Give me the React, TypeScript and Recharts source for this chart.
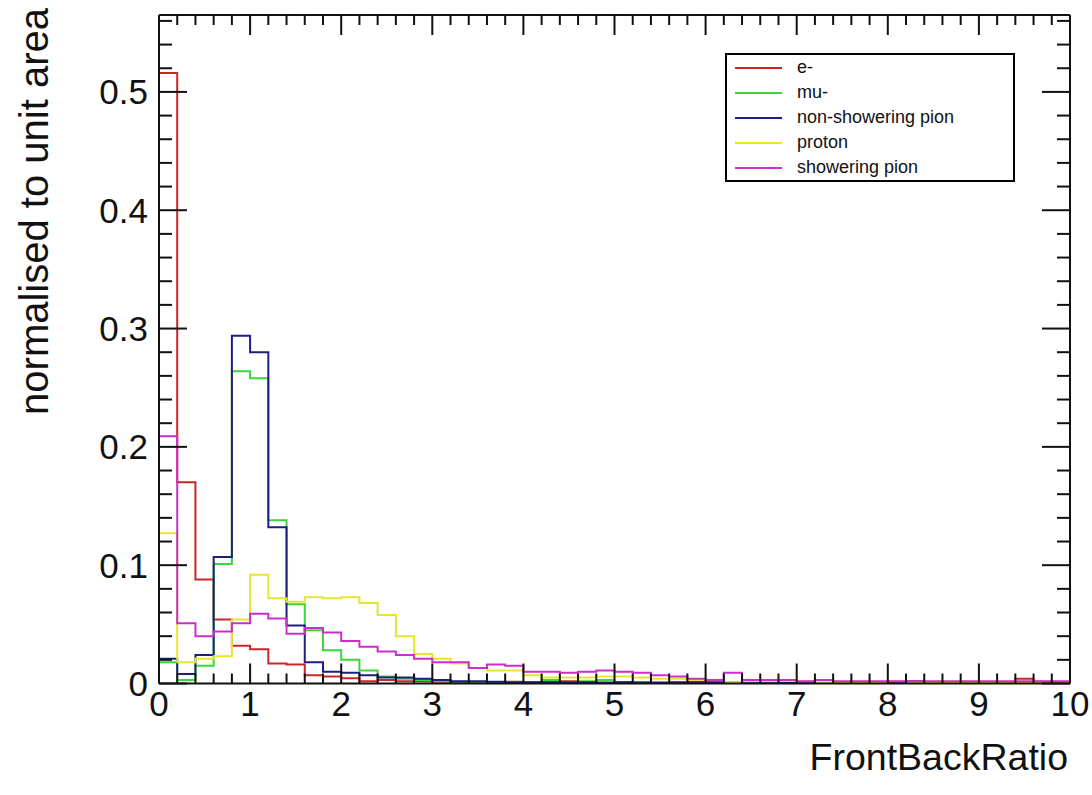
import React from 'react';
import { LineChart, Line, XAxis, YAxis, Legend } from 'recharts';

// FrontBackRatio histograms, 50 bins of width 0.2 on [0, 10], each normalised to unit area
const BIN_WIDTH = 0.2;

const electron = [
  0.516, 0.170, 0.088, 0.054, 0.032, 0.029, 0.017, 0.016, 0.007, 0.006,
  0.0045, 0.002, 0.003, 0.002, 0.002, 0.0015, 0.001, 0.001, 0.001, 0.0015,
  0.001, 0.001, 0.002, 0.001, 0.0005, 0.001, 0.0005, 0.0005, 0.001, 0.002,
  0.001, 0.0005, 0.001, 0.0005, 0.0005, 0.001, 0.0005, 0.0005, 0.0005, 0.0005,
  0.0005, 0.0005, 0.0005, 0.0005, 0.0005, 0.001, 0.001, 0.004, 0.0015, 0.001,
];

const muon = [
  0.018, 0.003, 0.015, 0.101, 0.264, 0.258, 0.138, 0.067, 0.045, 0.028,
  0.020, 0.011, 0.006, 0.004, 0.003, 0.002, 0.0015, 0.001, 0.001, 0.001,
  0.001, 0.003, 0.001, 0.002, 0.003, 0.001, 0.001, 0.0005, 0.0005, 0.0005,
  0.0005, 0.0005, 0.001, 0.002, 0.0005, 0.0005, 0.0005, 0.0005, 0.0005, 0.0005,
  0.0005, 0.0005, 0.0005, 0.0005, 0.0005, 0.0005, 0.0005, 0.0005, 0.0005, 0.0005,
];

const nonShoweringPion = [
  0.021, 0.008, 0.024, 0.107, 0.294, 0.280, 0.132, 0.049, 0.018, 0.010,
  0.009, 0.007, 0.005, 0.005, 0.004, 0.003, 0.002, 0.002, 0.0015, 0.001,
  0.001, 0.001, 0.001, 0.001, 0.0008, 0.001, 0.0008, 0.0008, 0.0008, 0.0008,
  0.0008, 0.0008, 0.0006, 0.0006, 0.0006, 0.0006, 0.0005, 0.0005, 0.0005, 0.0005,
  0.0005, 0.002, 0.0005, 0.0005, 0.0005, 0.0005, 0.0005, 0.0005, 0.0005, 0.0005,
];

const proton = [
  0.127, 0.018, 0.021, 0.023, 0.054, 0.092, 0.072, 0.069, 0.073, 0.072,
  0.073, 0.068, 0.058, 0.040, 0.025, 0.021, 0.017, 0.013, 0.011, 0.011,
  0.007, 0.005, 0.005, 0.005, 0.006, 0.006, 0.005, 0.004, 0.004, 0.003,
  0.003, 0.001, 0.002, 0.002, 0.003, 0.002, 0.001, 0.001, 0.001, 0.001,
  0.002, 0.001, 0.001, 0.001, 0.001, 0.001, 0.001, 0.001, 0.001, 0.001,
];

const showeringPion = [
  0.209, 0.051, 0.040, 0.044, 0.051, 0.059, 0.055, 0.042, 0.047, 0.043,
  0.036, 0.031, 0.027, 0.024, 0.021, 0.018, 0.018, 0.013, 0.016, 0.015,
  0.010, 0.010, 0.009, 0.010, 0.011, 0.010, 0.009, 0.007, 0.006, 0.004,
  0.003, 0.009, 0.003, 0.003, 0.003, 0.002, 0.003, 0.002, 0.002, 0.002,
  0.002, 0.002, 0.002, 0.002, 0.002, 0.002, 0.002, 0.002, 0.002, 0.002,
];

const series = [
  { key: 'e', name: 'e-', values: electron, color: '#cc2626' },
  { key: 'mu', name: 'mu-', values: muon, color: '#3ad63a' },
  { key: 'nsp', name: 'non-showering pion', values: nonShoweringPion, color: '#1e1e82' },
  { key: 'p', name: 'proton', values: proton, color: '#e6e62e' },
  { key: 'sp', name: 'showering pion', values: showeringPion, color: '#cc2ecc' },
];

const xMajorTicks = [0, 1, 2, 3, 4, 5, 6, 7, 8, 9, 10];
const yMajorTicks = [0, 0.1, 0.2, 0.3, 0.4, 0.5];
const yTickLabels = ['0', '0.1', '0.2', '0.3', '0.4', '0.5'];
const X_DOMAIN: [number, number] = [0, 10];
const Y_DOMAIN: [number, number] = [0, 0.565];

// one row per bin low edge, plus a closing row at x = 10 so the last step is drawn
const rows = electron.map((_, i) => {
  const row: Record<string, number> = { x: Math.round(i * BIN_WIDTH * 10) / 10 };
  series.forEach((s) => { row[s.key] = s.values[i]; });
  return row;
});
const closing: Record<string, number> = { x: X_DOMAIN[1] };
series.forEach((s) => { closing[s.key] = s.values[s.values.length - 1]; });
const data = [...rows, closing];

// minor ticks every 0.2 on x and 0.02 on y, ROOT style
const xTicks = Array.from({ length: 51 }, (_, i) => Math.round(i * 2) / 10);
const yTicks = Array.from({ length: 29 }, (_, i) => Math.round(i * 2) / 100);

const FONT = '"Liberation Sans", Arial, Helvetica, sans-serif';
const INK = '#111';

const isMajorX = (v: number) => xMajorTicks.some((t) => Math.abs(t - v) < 1e-6);
const majorYIndex = (v: number) => yMajorTicks.findIndex((t) => Math.abs(t - v) < 1e-6);

const BottomTick = ({ x, y, payload }: any) => {
  const major = isMajorX(payload.value);
  return (
    <g>
      <line x1={x} y1={y} x2={x} y2={y - (major ? 20 : 10)} stroke={INK} strokeWidth={2} />
      {major && (
        <text x={x} y={y + 32} textAnchor="middle" fontSize={35} fontFamily={FONT} fill={INK}>
          {payload.value}
        </text>
      )}
    </g>
  );
};

const TopTick = ({ x, y, payload }: any) => {
  const major = isMajorX(payload.value);
  return <line x1={x} y1={y} x2={x} y2={y + (major ? 20 : 10)} stroke={INK} strokeWidth={2} />;
};

const LeftTick = ({ x, y, payload }: any) => {
  const idx = majorYIndex(payload.value);
  const major = idx >= 0;
  return (
    <g>
      <line x1={x} y1={y} x2={x + (major ? 28 : 13)} y2={y} stroke={INK} strokeWidth={2} />
      {major && (
        <text x={x - 11} y={y + 12.5} textAnchor="end" fontSize={35} fontFamily={FONT} fill={INK}>
          {yTickLabels[idx]}
        </text>
      )}
    </g>
  );
};

const RightTick = ({ x, y, payload }: any) => {
  const major = majorYIndex(payload.value) >= 0;
  return <line x1={x} y1={y} x2={x - (major ? 28 : 13)} y2={y} stroke={INK} strokeWidth={2} />;
};

const LegendBox = ({ payload }: any) => (
  <div
    style={{
      width: 290,
      height: 129,
      boxSizing: 'border-box',
      border: '2px solid #000',
      background: '#fff',
    }}
  >
    {(payload || []).map((entry: any) => (
      <div key={entry.value} style={{ display: 'flex', alignItems: 'center', height: 25 }}>
        <span style={{ marginLeft: 8, width: 47, height: 2, background: entry.color, display: 'inline-block' }} />
        <span style={{ marginLeft: 15, fontSize: 18, fontFamily: FONT, color: INK, lineHeight: '25px' }}>
          {entry.value}
        </span>
      </div>
    ))}
  </div>
);

const axisLine = { stroke: INK, strokeWidth: 2 };

export default function App() {
  return (
    <div style={{ position: 'absolute', left: 0, top: 0, width: 1092, height: 795, background: '#fff' }}>
      <LineChart
        width={1092}
        height={795}
        data={data}
        margin={{ top: 14, right: 21, left: 158, bottom: 110.5 }}
      >
        <XAxis
          dataKey="x"
          type="number"
          domain={X_DOMAIN}
          ticks={xTicks}
          interval={0}
          height={1}
          tickSize={0}
          tickMargin={0}
          tickLine={false}
          axisLine={axisLine}
          tick={BottomTick}
          allowDataOverflow
        />
        <XAxis
          xAxisId="top"
          dataKey="x"
          orientation="top"
          type="number"
          domain={X_DOMAIN}
          ticks={xTicks}
          interval={0}
          height={1}
          tickSize={0}
          tickMargin={0}
          tickLine={false}
          axisLine={axisLine}
          tick={TopTick}
          allowDataOverflow
        />
        <YAxis
          type="number"
          domain={Y_DOMAIN}
          ticks={yTicks}
          interval={0}
          width={1}
          tickSize={0}
          tickMargin={0}
          tickLine={false}
          axisLine={axisLine}
          tick={LeftTick}
          allowDataOverflow
        />
        <YAxis
          yAxisId="right"
          orientation="right"
          type="number"
          domain={Y_DOMAIN}
          ticks={yTicks}
          interval={0}
          width={1}
          tickSize={0}
          tickMargin={0}
          tickLine={false}
          axisLine={axisLine}
          tick={RightTick}
          allowDataOverflow
        />
        {series.map((s) => (
          <Line
            key={s.key}
            type="stepAfter"
            dataKey={s.key}
            name={s.name}
            stroke={s.color}
            strokeWidth={2}
            dot={false}
            activeDot={false}
            isAnimationActive={false}
          />
        ))}
        <Legend
          layout="horizontal"
          verticalAlign="middle"
          content={LegendBox}
          wrapperStyle={{ left: 725, top: 53, width: 290, height: 129 }}
        />
      </LineChart>
      <svg
        width={1092}
        height={795}
        style={{ position: 'absolute', left: 0, top: 0, pointerEvents: 'none' }}
      >
        <text x={1068} y={770} textAnchor="end" fontSize={37.5} fontFamily={FONT} fill={INK}>
          FrontBackRatio
        </text>
        <text
          transform="translate(48, 8) rotate(-90)"
          textAnchor="end"
          fontSize={40}
          fontFamily={FONT}
          fill={INK}
        >
          normalised to unit area
        </text>
      </svg>
    </div>
  );
}
